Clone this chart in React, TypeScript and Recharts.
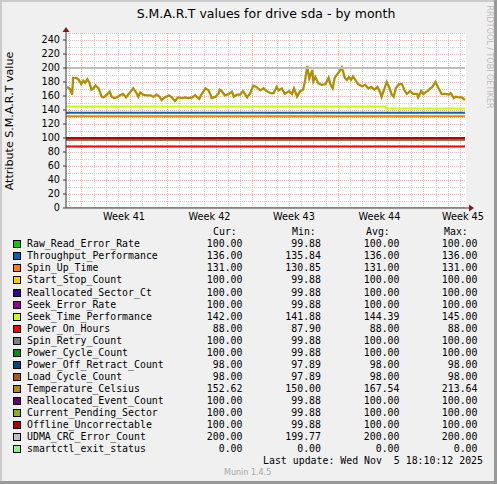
import React from "react";
import { LineChart, Line, XAxis, YAxis, ReferenceLine, ReferenceDot } from "recharts";

// munin month graph: one rrd sample every 2 hours
const SAMPLES_PER_DAY = 12;
const DOMAIN_END = 393;
const FIRST_MIDNIGHT = 3.6;
const FIRST_MONDAY = 15.6;

const weekLabels = ["Week 41", "Week 42", "Week 43", "Week 44", "Week 45"];
const weekLabelAt = [57, 141, 224, 308, 390];
const yTicks = [0, 20, 40, 60, 80, 100, 120, 140, 160, 180, 200, 220, 240];

const fieldNames = [
  "Raw_Read_Error_Rate",
  "Throughput_Performance",
  "Spin_Up_Time",
  "Start_Stop_Count",
  "Reallocated_Sector_Ct",
  "Seek_Error_Rate",
  "Seek_Time_Performance",
  "Power_On_Hours",
  "Spin_Retry_Count",
  "Power_Cycle_Count",
  "Power_Off_Retract_Count",
  "Load_Cycle_Count",
  "Temperature_Celsius",
  "Reallocated_Event_Count",
  "Current_Pending_Sector",
  "Offline_Uncorrectable",
  "UDMA_CRC_Error_Count",
  "smartctl_exit_status",
];

const fieldColors = [
  "#00cc00", "#0066b3", "#ff8000", "#ffcc00", "#330099", "#990099",
  "#ccff00", "#ff0000", "#808080", "#008f00", "#00487d", "#b35a00",
  "#b38f00", "#6b006b", "#8fb300", "#b30000", "#bebebe", "#80ff80",
];

const curValues = [100, 136, 131, 100, 100, 100, 142, 88, 100, 100, 98, 98, 152.62, 100, 100, 100, 200, 0];
const minValues = [99.88, 135.84, 130.85, 99.88, 99.88, 99.88, 141.88, 87.9, 99.88, 99.88, 97.89, 97.89, 150, 99.88, 99.88, 99.88, 199.77, 0];
const avgValues = [100, 136, 131, 100, 100, 100, 144.39, 88, 100, 100, 98, 98, 167.54, 100, 100, 100, 200, 0];
const maxValues = [100, 136, 131, 100, 100, 100, 145, 88, 100, 100, 98, 98, 213.64, 100, 100, 100, 200, 0];

// flat series, drawn at their level for the whole month
const flatLevels = [100, 136, 131, 100, 100, 100, null, 88, 100, 100, 98, 98, null, 100, 100, 100, 200, 0];

// Seek_Time_Performance drops once during week 44
const seekTimeSamples = [0, 314, 392];
const seekTimeValues = [145, 142, 142];

const tempSamples = [
  1, 4, 6, 7, 10, 12, 14, 15, 17, 19, 21, 23, 25, 27, 29, 32, 35, 37, 40, 43,
  45, 47, 50, 53, 56, 59, 61, 64, 66, 69, 71, 73, 76, 79, 83, 86, 89, 92, 94, 97,
  101, 104, 107, 110, 114, 117, 120, 124, 127, 129, 131, 133, 137, 140, 142, 143, 147, 150, 151, 153,
  156, 160, 163, 165, 168, 171, 174, 178, 181, 184, 187, 191, 194, 197, 201, 204, 207, 209, 212, 215,
  219, 222, 224, 227, 230, 233, 235, 237, 239, 242, 243, 245, 248, 251, 255, 258, 260, 262, 264, 267,
  269, 271, 274, 276, 278, 280, 282, 286, 287, 291, 294, 297, 300, 303, 306, 309, 310, 313, 315, 318,
  320, 322, 324, 327, 330, 333, 335, 338, 341, 345, 346, 349, 351, 355, 358, 360, 363, 366, 369, 373,
  376, 378, 381, 383, 386, 389, 392,
];
const tempValues = [
  173, 170, 162, 186, 186, 184, 180, 177, 182, 179, 184, 179, 169, 171, 175, 171, 159, 158, 162, 166,
  159, 157, 158, 161, 163, 158, 162, 167, 171, 165, 159, 165, 162, 161, 161, 159, 162, 159, 154, 158,
  161, 158, 153, 158, 157, 158, 157, 158, 161, 158, 156, 162, 171, 168, 162, 157, 159, 164, 169, 167,
  161, 163, 166, 159, 162, 162, 167, 158, 164, 175, 173, 168, 171, 167, 164, 164, 173, 168, 171, 163,
  167, 163, 171, 159, 167, 169, 183, 203, 185, 197, 181, 187, 178, 176, 177, 186, 176, 171, 186, 192,
  196, 201, 186, 183, 187, 183, 188, 179, 177, 174, 176, 171, 173, 169, 173, 164, 159, 171, 180, 171,
  162, 159, 171, 177, 177, 167, 163, 167, 163, 163, 158, 167, 163, 167, 171, 173, 180, 171, 163, 163,
  162, 164, 157, 159, 158, 158, 154,
];

const tempData = tempSamples.map((t, i) => ({ t, v: tempValues[i] }));
const seekTimeData = seekTimeSamples.map((t, i) => ({ t, v: seekTimeValues[i] }));

function seriesData(index: number) {
  if (index === 6) return seekTimeData;
  if (index === 12) return tempData;
  const level = flatLevels[index] as number;
  return [{ t: 0, v: level }, { t: 392, v: level }];
}

const majorDays = weekLabels.map((_, k) => FIRST_MONDAY + k * 7 * SAMPLES_PER_DAY);
const minorDays = Array.from({ length: 33 }, (_, k) => FIRST_MIDNIGHT + k * SAMPLES_PER_DAY)
  .filter((d) => !majorDays.some((m) => Math.abs(m - d) < 0.5));
const minorLevels = [10, 30, 50, 70, 90, 110, 130, 150, 170, 190, 210, 230, 250];
const majorLevels = yTicks.filter((v) => v > 0);

const MINOR = "#cdcdcd";
const MAJOR = "#f0b0b0";
const AXIS = "#3a3a3a";
const ARROW = "#8b1a1a";

const mono = '"DejaVu Sans Mono", monospace';
const sans = '"DejaVu Sans", sans-serif';

const colEnds = [242.5, 321, 399.5, 477.5];
const headerLefts = [213, 292, 366, 444];
const headers = ["Cur:", "Min:", "Avg:", "Max:"];
const ROW0 = 244.3;
const ROW_STEP = 12.05;

function RightArrow(props: any) {
  const { cx, cy } = props;
  return (
    <g>
      <line x1={cx} y1={cy} x2={cx + 4} y2={cy} stroke={AXIS} />
      <path d={`M${cx + 3},${cy - 3.5} L${cx + 8},${cy} L${cx + 3},${cy + 3.5} Z`} fill={ARROW} />
    </g>
  );
}

function UpArrow(props: any) {
  const { cx, cy } = props;
  return (
    <g>
      <line x1={cx} y1={cy} x2={cx} y2={cy - 3} stroke={AXIS} />
      <path d={`M${cx - 3.5},${cy - 1} L${cx},${cy - 6} L${cx + 3.5},${cy - 1} Z`} fill={ARROW} />
    </g>
  );
}

function dayLine(d: number, color: string) {
  return (
    <Line
      key={`day${d}`}
      data={[{ t: d, v: 0 }, { t: d, v: 250 }]}
      dataKey="v"
      stroke={color}
      strokeWidth={1}
      strokeDasharray="1 1"
      shapeRendering="crispEdges"
      dot={false}
      activeDot={false}
      legendType="none"
      isAnimationActive={false}
    />
  );
}

export default function App() {
  const stats = [curValues, minValues, avgValues, maxValues];
  return (
    <div style={{ position: "absolute", left: 0, top: 0, width: 497, height: 484, background: "#f0f0f0", overflow: "hidden", fontFamily: sans }}>
      <div style={{ position: "absolute", left: 66, top: 33, width: 400, height: 175, background: "#ffffff" }} />
      <div style={{ position: "absolute", left: 0, top: 0 }}>
        <LineChart width={497} height={230} margin={{ top: 33, right: 31, bottom: 0, left: 26 }}>
          {minorLevels.map((v) => (
            <ReferenceLine key={`hm${v}`} y={v} stroke={MINOR} strokeDasharray="1 1" shapeRendering="crispEdges" ifOverflow="visible" />
          ))}
          {majorLevels.map((v) => (
            <ReferenceLine key={`hM${v}`} y={v} stroke={MAJOR} strokeDasharray="1 1" shapeRendering="crispEdges" />
          ))}
          <XAxis
            dataKey="t"
            type="number"
            domain={[0, DOMAIN_END]}
            allowDataOverflow
            ticks={weekLabelAt}
            interval={0}
            tickFormatter={(v) => weekLabels[weekLabelAt.indexOf(Number(v))] ?? ""}
            height={22}
            tickLine={false}
            tickSize={0}
            tickMargin={5}
            axisLine={{ stroke: AXIS }}
            tick={{ fontSize: 9.7, fontFamily: sans, fill: "#000" }}
          />
          <YAxis
            type="number"
            domain={[0, 250]}
            allowDataOverflow
            ticks={yTicks}
            interval={0}
            width={40}
            tickSize={3}
            tickMargin={3}
            tickLine={{ stroke: AXIS }}
            axisLine={{ stroke: AXIS }}
            tick={{ fontSize: 9.7, fontFamily: sans, fill: "#000" }}
          />
          {minorDays.map((d) => dayLine(d, MINOR))}
          {majorDays.map((d) => dayLine(d, MAJOR))}
          {fieldNames.map((name, i) => (
            <Line
              key={name}
              data={seriesData(i)}
              dataKey="v"
              name={name}
              type={i === 6 ? "stepAfter" : "linear"}
              stroke={fieldColors[i]}
              strokeWidth={i === 12 ? 2.3 : 2}
              dot={false}
              activeDot={false}
              isAnimationActive={false}
            />
          ))}
          <ReferenceDot x={DOMAIN_END} y={0} r={0} ifOverflow="visible" shape={RightArrow} />
          <ReferenceDot x={0} y={250} r={0} ifOverflow="visible" shape={UpArrow} />
        </LineChart>
      </div>

      <div style={{ position: "absolute", left: 66, top: 6, width: 400, height: 16, lineHeight: "16px", textAlign: "center", fontSize: 12.5, color: "#000" }}>
        S.M.A.R.T values for drive sda - by month
      </div>
      <div style={{ position: "absolute", left: -90, top: 113.5, width: 200, height: 14, lineHeight: "14px", textAlign: "center", fontSize: 11.1, color: "#000", transform: "rotate(-90deg)" }}>
        Attribute S.M.A.R.T value
      </div>
      <div style={{ position: "absolute", left: 428.5, top: 51.5, width: 120, height: 10, lineHeight: "10px", textAlign: "center", fontSize: 8, color: "#bdbdbd", transform: "rotate(90deg)", whiteSpace: "nowrap" }}>
        RRDTOOL / TOBI OETIKER
      </div>

      <div style={{ position: "absolute", left: 0, top: 226, width: 497, height: 12, lineHeight: "12px", fontFamily: mono, fontSize: 9.9, whiteSpace: "pre" }}>
        {headers.map((h, j) => (
          <span key={h} style={{ position: "absolute", left: headerLefts[j] }}>{h}</span>
        ))}
      </div>
      {fieldNames.map((name, i) => (
        <div key={name} style={{ position: "absolute", left: 0, top: ROW0 + i * ROW_STEP - 6, width: 497, height: 12, lineHeight: "12px", fontFamily: mono, fontSize: 9.9, whiteSpace: "pre", color: "#000" }}>
          <span style={{ position: "absolute", left: 13, top: 2, width: 8, height: 8, boxSizing: "border-box", border: "1px solid #000", background: fieldColors[i] }} />
          <span style={{ position: "absolute", left: 27 }}>{name}</span>
          {stats.map((col, j) => (
            <span key={j} style={{ position: "absolute", left: colEnds[j] - 60, width: 60, textAlign: "right" }}>
              {col[i].toFixed(2)}
            </span>
          ))}
        </div>
      ))}

      <div style={{ position: "absolute", right: 14, top: 454.7, height: 12, lineHeight: "12px", fontFamily: mono, fontSize: 9.9, whiteSpace: "pre", color: "#000" }}>
        {"Last update: Wed Nov  5 18:10:12 2025"}
      </div>
      <div style={{ position: "absolute", left: 224, top: 468.3, height: 10, lineHeight: "10px", fontSize: 8, color: "#a6a6a6", whiteSpace: "nowrap" }}>
        Munin 1.4.5
      </div>

      <div style={{ position: "absolute", left: 0, top: 0, width: 497, height: 2, background: "#cbcbcb" }} />
      <div style={{ position: "absolute", left: 0, top: 0, width: 2, height: 484, background: "#cbcbcb" }} />
      <div style={{ position: "absolute", left: 0, top: 481, width: 497, height: 3, background: "#999999" }} />
      <div style={{ position: "absolute", left: 494, top: 0, width: 3, height: 484, background: "#999999" }} />
    </div>
  );
}
